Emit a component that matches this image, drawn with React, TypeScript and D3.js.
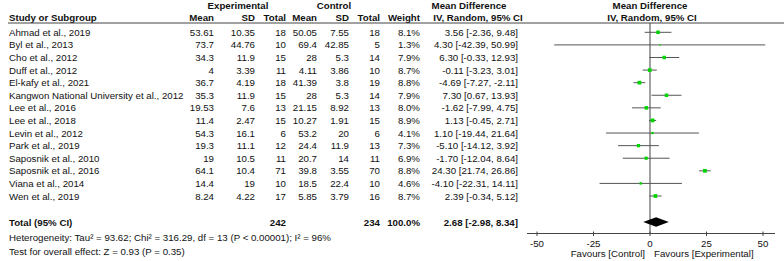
import React from "react";
import * as d3 from "d3";

const studies = [
  "Ahmad et al., 2019",
  "Byl et al., 2013",
  "Cho et al., 2012",
  "Duff et al., 2012",
  "El-kafy et al., 2021",
  "Kangwon National University et al., 2012",
  "Lee et al., 2016",
  "Lee et al., 2018",
  "Levin et al., 2012",
  "Park et al., 2019",
  "Saposnik et al., 2010",
  "Saposnik et al., 2016",
  "Viana et al., 2014",
  "Wen et al., 2019",
];
const expMean = ["53.61", "73.7", "34.3", "4", "36.7", "35.3", "19.53", "11.4", "54.3", "19.3", "19", "64.1", "14.4", "8.24"];
const expSD = ["10.35", "44.76", "11.9", "3.39", "4.19", "11.9", "7.6", "2.47", "16.1", "11.1", "10.5", "10.4", "19", "4.22"];
const expTotal = [18, 10, 15, 11, 18, 15, 13, 15, 6, 12, 11, 71, 10, 17];
const ctlMean = ["50.05", "69.4", "28", "4.11", "41.39", "28", "21.15", "10.27", "53.2", "24.4", "20.7", "39.8", "18.5", "5.85"];
const ctlSD = ["7.55", "42.85", "5.3", "3.86", "3.8", "5.3", "8.92", "1.91", "20", "11.9", "14", "3.55", "22.4", "3.79"];
const ctlTotal = [18, 5, 14, 10, 19, 14, 13, 15, 6, 13, 11, 70, 10, 16];
const weights = [8.1, 1.3, 7.9, 8.7, 8.8, 7.9, 8.0, 8.9, 4.1, 7.3, 6.9, 8.8, 4.6, 8.7];
const md = [3.56, 4.3, 6.3, -0.11, -4.69, 7.3, -1.62, 1.13, 1.1, -5.1, -1.7, 24.3, -4.1, 2.39];
const lo = [-2.36, -42.39, -0.33, -3.23, -7.27, 0.67, -7.99, -0.45, -19.44, -14.12, -12.04, 21.74, -22.31, -0.34];
const hi = [9.48, 50.99, 12.93, 3.01, -2.11, 13.93, 4.75, 2.71, 21.64, 3.92, 8.64, 26.86, 14.11, 5.12];

const total = { exp: 242, ctl: 234, weight: "100.0%", md: 2.68, lo: -2.98, hi: 8.34 };
const axisTicks = [-50, -25, 0, 25, 50];
const heterogeneity = "Heterogeneity: Tau\u00b2 = 93.62; Chi\u00b2 = 316.29, df = 13 (P < 0.00001); I\u00b2 = 96%";
const overall = "Test for overall effect: Z = 0.93 (P = 0.35)";

const W = 784;
const H = 261;
const FONT = "'Liberation Sans', Arial, Helvetica, sans-serif";
const FS = 9.7;

const fmt = (v: number) => v.toFixed(2);

export default function App() {
  const x = d3.scaleLinear().domain([-50, 50]).range([537, 763]);
  const rowY = d3
    .scaleLinear()
    .domain([0, studies.length - 1])
    .range([32.3, 196]);
  const size = d3.scaleLinear().domain([0, 10]).range([1, 4.1]);
  const totalY = 222;
  const axisY = 233.5;

  const num = (xr: number, y: number, t: string | number, bold = false, key?: string) => (
    <text key={key} x={xr} y={y} textAnchor="end" dominantBaseline="central" fontWeight={bold ? "bold" : "normal"}>
      {t}
    </text>
  );

  return (
    <svg
      width={W}
      height={H}
      style={{ position: "absolute", left: 0, top: 0, background: "#fff" }}
      fontFamily={FONT}
      fontSize={FS}
      fill="#111"
    >
      {/* group headers */}
      <g fontWeight="bold">
        <text x={238} y={5.5} textAnchor="middle" dominantBaseline="central">Experimental</text>
        <text x={334} y={5.5} textAnchor="middle" dominantBaseline="central">Control</text>
        <text x={469} y={5.5} textAnchor="middle" dominantBaseline="central">Mean Difference</text>
        <text x={478} y={17.3} textAnchor="middle" dominantBaseline="central">IV, Random, 95% CI</text>
        <text x={650} y={5.5} textAnchor="middle" dominantBaseline="central">Mean Difference</text>
        <text x={652} y={17.3} textAnchor="middle" dominantBaseline="central">IV, Random, 95% CI</text>
        <text x={9} y={17.3} dominantBaseline="central">Study or Subgroup</text>
        {num(214, 17.3, "Mean", true)}
        {num(255, 17.3, "SD", true)}
        {num(286, 17.3, "Total", true)}
        {num(317, 17.3, "Mean", true)}
        {num(349, 17.3, "SD", true)}
        {num(380, 17.3, "Total", true)}
        {num(420, 17.3, "Weight", true)}
      </g>
      <line x1={8} x2={784} y1={23} y2={23} stroke="#444" strokeWidth={1} />

      {/* zero line */}
      <line x1={x(0)} x2={x(0)} y1={23} y2={axisY} stroke="#444" strokeWidth={1} />

      {studies.map((s, i) => {
        const y = rowY(i);
        const sz = size(weights[i]);
        return (
          <g key={s}>
            <text x={9} y={y} dominantBaseline="central">{s}</text>
            {num(214, y, expMean[i])}
            {num(255, y, expSD[i])}
            {num(286, y, expTotal[i])}
            {num(317, y, ctlMean[i])}
            {num(349, y, ctlSD[i])}
            {num(380, y, ctlTotal[i])}
            {num(420, y, weights[i].toFixed(1) + "%")}
            {num(518, y, `${fmt(md[i])} [${fmt(lo[i])}, ${fmt(hi[i])}]`)}
            <line x1={x(lo[i])} x2={x(hi[i])} y1={y} y2={y} stroke="#555" strokeWidth={1} />
            <rect x={x(md[i]) - sz / 2} y={y - sz / 2} width={sz} height={sz} fill="#00d400" />
          </g>
        );
      })}

      {/* total row */}
      <g fontWeight="bold">
        <text x={9} y={totalY} dominantBaseline="central">Total (95% CI)</text>
        {num(286, totalY, total.exp, true)}
        {num(380, totalY, total.ctl, true)}
        {num(420, totalY, total.weight, true)}
        {num(518, totalY, `${fmt(total.md)} [${fmt(total.lo)}, ${fmt(total.hi)}]`, true)}
      </g>
      <path
        d={`M${x(total.lo)},${totalY} L${x(total.md)},${totalY - 4.7} L${x(total.hi)},${totalY} L${x(total.md)},${totalY + 4.7} Z`}
        fill="#000"
      />
      <text x={9} y={237.5} dominantBaseline="central">{heterogeneity}</text>
      <text x={9} y={251} dominantBaseline="central">{overall}</text>

      {/* axis */}
      <line x1={527} x2={775} y1={axisY} y2={axisY} stroke="#444" strokeWidth={1} />
      {axisTicks.map((t) => (
        <g key={t}>
          <line x1={x(t)} x2={x(t)} y1={axisY - 2} y2={axisY + 2.5} stroke="#444" strokeWidth={1} />
          <text x={x(t)} y={243} textAnchor="middle" dominantBaseline="central">{t}</text>
        </g>
      ))}
      <text x={645} y={253} textAnchor="end" dominantBaseline="central">Favours [Control]</text>
      <text x={654} y={253} dominantBaseline="central">Favours [Experimental]</text>
    </svg>
  );
}
